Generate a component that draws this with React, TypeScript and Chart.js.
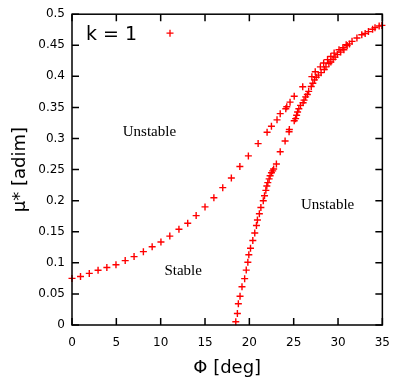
import React, { useEffect, useRef } from "react";
import { Chart, registerables } from "chart.js";

Chart.register(...registerables);

// Stable branch (starts at Φ = 0)
const phiA = [0, 0.96, 1.95, 2.94, 3.93, 4.96, 6.0, 7.0, 8.05, 9.04, 10.03, 11.03, 12.06, 13.05, 14.0, 15.0, 16.0, 17.0, 17.97, 18.93, 19.89, 20.99, 22.0, 22.49, 23.12, 23.48, 24.11, 24.22, 24.59, 25.06, 26.02, 27.05, 27.43, 28.01, 28.38, 28.82, 29.19, 29.56, 30.11, 30.55, 30.92];
const muA = [0.075, 0.078, 0.083, 0.088, 0.0926, 0.097, 0.1036, 0.11, 0.118, 0.126, 0.1336, 0.143, 0.154, 0.1636, 0.176, 0.19, 0.2046, 0.221, 0.2366, 0.255, 0.272, 0.2918, 0.31, 0.3197, 0.33, 0.34, 0.348, 0.351, 0.3585, 0.368, 0.3833, 0.3995, 0.4074, 0.4153, 0.4216, 0.427, 0.432, 0.4374, 0.4427, 0.446, 0.451];

// Steep branch (starts near Φ = 18.5)
const phiB = [18.47, 18.65, 18.76, 18.95, 19.17, 19.47, 19.65, 19.83, 19.94, 20.13, 20.39, 20.61, 20.8, 20.91, 21.13, 21.3, 21.57, 21.71, 21.86, 21.97, 22.08, 22.23, 22.34, 22.49, 22.63, 22.74, 23.05, 23.48, 24.03, 24.48, 24.51, 25.06, 25.22, 25.33, 25.44, 25.58, 25.77, 26.06, 26.17, 26.35, 26.54, 26.69, 26.98, 27.16, 27.35, 27.54, 27.79, 28.09, 28.45, 28.64, 28.97, 29.19, 29.45, 29.67, 29.92, 30.3, 30.66, 31.03, 31.29, 31.58, 32.13, 32.68, 33.06, 33.43, 33.9, 34.17, 34.64, 34.95];
const muB = [0.0052, 0.0185, 0.0342, 0.0462, 0.0615, 0.0746, 0.0883, 0.101, 0.113, 0.1235, 0.136, 0.148, 0.16, 0.169, 0.179, 0.189, 0.2, 0.208, 0.2166, 0.2235, 0.229, 0.235, 0.24, 0.245, 0.248, 0.251, 0.259, 0.2787, 0.296, 0.311, 0.3144, 0.3285, 0.332, 0.3375, 0.3427, 0.348, 0.3533, 0.3576, 0.3617, 0.367, 0.3707, 0.3759, 0.3838, 0.389, 0.3943, 0.3986, 0.402, 0.406, 0.411, 0.4153, 0.4207, 0.423, 0.4274, 0.431, 0.435, 0.439, 0.4427, 0.4495, 0.4522, 0.4563, 0.4617, 0.4669, 0.469, 0.472, 0.4759, 0.4784, 0.481, 0.482];

const xTicks = [0, 5, 10, 15, 20, 25, 30, 35];
const xTickLabels = ["0", "5", "10", "15", "20", "25", "30", "35"];
const yTicks = [0, 0.05, 0.1, 0.15, 0.2, 0.25, 0.3, 0.35, 0.4, 0.45, 0.5];
const yTickLabels = ["0", "0.05", "0.1", "0.15", "0.2", "0.25", "0.3", "0.35", "0.4", "0.45", "0.5"];

const regionLabels = ["Unstable", "Stable", "Unstable"];
const regionPhi = [8.73, 12.54, 28.82];
const regionMu = [0.31, 0.086, 0.1924];

const legendText = "k = 1";
const xTitle = "Φ [deg]";
const yTitle = "μ* [adim]";

const RED = "#ff0000";
const SANS = "'DejaVu Sans', sans-serif";
const SERIF = "'Liberation Serif', 'Times New Roman', serif";

export default function App() {
  const ref = useRef<HTMLCanvasElement>(null);

  useEffect(() => {
    if (!ref.current) return;

    const frame = {
      id: "gnuFrame",
      afterDatasetsDraw(chart: any) {
        const ctx = chart.ctx;
        const { left, right, top, bottom } = chart.chartArea;
        const xs = chart.scales.x;
        const ys = chart.scales.y;
        ctx.save();
        ctx.strokeStyle = "#000";
        ctx.lineWidth = 1.5;
        ctx.strokeRect(left, top, right - left, bottom - top);
        const tl = 7;
        ctx.beginPath();
        xTicks.forEach((v) => {
          const px = xs.getPixelForValue(v);
          ctx.moveTo(px, bottom);
          ctx.lineTo(px, bottom - tl);
          ctx.moveTo(px, top);
          ctx.lineTo(px, top + tl);
        });
        yTicks.forEach((v) => {
          const py = ys.getPixelForValue(v);
          ctx.moveTo(left, py);
          ctx.lineTo(left + tl, py);
          ctx.moveTo(right, py);
          ctx.lineTo(right - tl, py);
        });
        ctx.stroke();

        // region labels
        ctx.fillStyle = "#000";
        ctx.font = `15px ${SERIF}`;
        ctx.textAlign = "center";
        ctx.textBaseline = "middle";
        regionLabels.forEach((t, i) => {
          ctx.fillText(t, xs.getPixelForValue(regionPhi[i]), ys.getPixelForValue(regionMu[i]));
        });

        // key
        ctx.font = `19px ${SANS}`;
        ctx.textAlign = "left";
        ctx.textBaseline = "alphabetic";
        ctx.fillText(legendText, left + 14, top + 26);
        const mx = left + 98;
        const my = top + 19;
        ctx.strokeStyle = RED;
        ctx.lineWidth = 1.3;
        ctx.beginPath();
        ctx.moveTo(mx - 3.5, my);
        ctx.lineTo(mx + 3.5, my);
        ctx.moveTo(mx, my - 3.5);
        ctx.lineTo(mx, my + 3.5);
        ctx.stroke();
        ctx.restore();
      },
    };

    const pointOpts = {
      pointStyle: "cross",
      pointRadius: 3.5,
      pointBorderWidth: 1.4,
      borderColor: RED,
      backgroundColor: RED,
      showLine: false,
      clip: false,
    };

    const chart = new Chart(ref.current, {
      type: "scatter",
      data: {
        datasets: [
          { label: "stable", data: phiA.map((x, i) => ({ x, y: muA[i] })), ...pointOpts },
          { label: "steep", data: phiB.map((x, i) => ({ x, y: muB[i] })), ...pointOpts },
        ],
      } as any,
      options: {
        animation: false,
        responsive: false,
        maintainAspectRatio: false,
        events: [],
        layout: { padding: { left: 0, right: 12, top: 8, bottom: 0 } },
        plugins: { legend: { display: false }, tooltip: { enabled: false } },
        scales: {
          x: {
            type: "linear",
            min: 0,
            max: 35,
            afterBuildTicks: (s: any) => {
              s.ticks = xTicks.map((v) => ({ value: v }));
            },
            afterFit: (s: any) => {
              s.height = 60;
            },
            grid: { display: false, drawTicks: false },
            border: { display: false },
            ticks: {
              autoSkip: false,
              maxRotation: 0,
              padding: 11,
              color: "#000",
              font: { family: SANS, size: 12 },
              callback: (_v: any, i: number) => xTickLabels[i],
            },
            title: {
              display: true,
              text: xTitle,
              color: "#000",
              font: { family: SANS, size: 18 },
              padding: { top: 0, bottom: 6 },
            },
          },
          y: {
            type: "linear",
            min: 0,
            max: 0.5,
            afterBuildTicks: (s: any) => {
              s.ticks = yTicks.map((v) => ({ value: v }));
            },
            afterFit: (s: any) => {
              s.width = 72;
            },
            grid: { display: false, drawTicks: false },
            border: { display: false },
            ticks: {
              autoSkip: false,
              padding: 7,
              color: "#000",
              font: { family: SANS, size: 12 },
              callback: (_v: any, i: number) => yTickLabels[i],
            },
            title: {
              display: true,
              text: yTitle,
              color: "#000",
              font: { family: SANS, size: 18 },
              padding: { top: 10, bottom: 0 },
            },
          },
        },
      } as any,
      plugins: [frame],
    });

    return () => chart.destroy();
  }, []);

  return (
    <div style={{ position: "absolute", left: 0, top: 0, width: 401, height: 385, background: "#fff" }}>
      <canvas ref={ref} width={401} height={385} style={{ width: 401, height: 385, display: "block" }} />
    </div>
  );
}
